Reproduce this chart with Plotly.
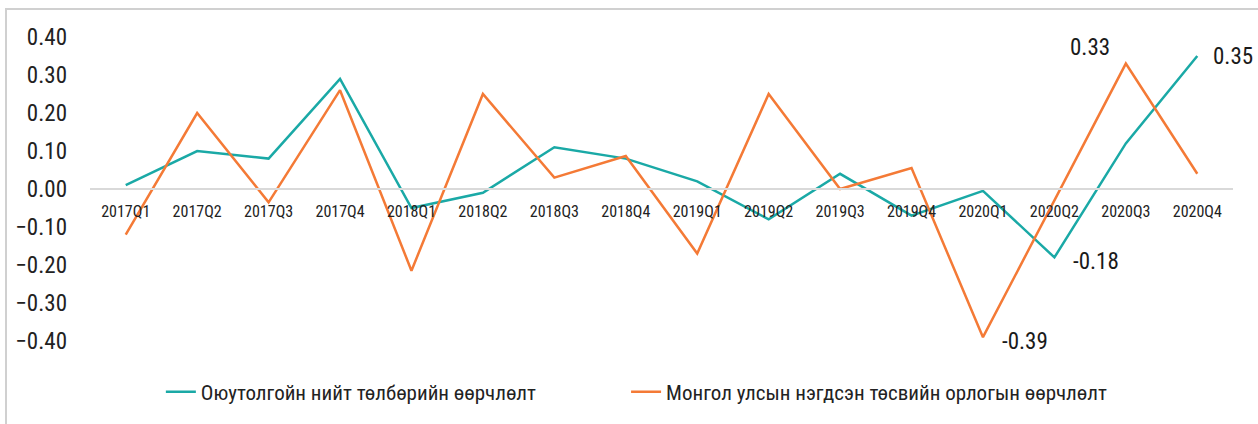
import plotly.graph_objects as go

categories = ["2017Q1", "2017Q2", "2017Q3", "2017Q4",
              "2018Q1", "2018Q2", "2018Q3", "2018Q4",
              "2019Q1", "2019Q2", "2019Q3", "2019Q4",
              "2020Q1", "2020Q2", "2020Q3", "2020Q4"]
oyu_tolgoi = [0.01, 0.10, 0.08, 0.29, -0.05, -0.01, 0.11, 0.08,
              0.02, -0.08, 0.04, -0.07, -0.005, -0.18, 0.12, 0.35]
budget_rev = [-0.12, 0.20, -0.035, 0.26, -0.215, 0.25, 0.03, 0.087,
              -0.17, 0.25, 0.00, 0.055, -0.39, -0.03, 0.33, 0.04]
name_oyu = "Оюутолгойн нийт төлбөрийн өөрчлөлт"
name_budget = "Монгол улсын нэгдсэн төсвийн орлогын өөрчлөлт"
y_ticks = [0.4, 0.3, 0.2, 0.1, 0.0, -0.1, -0.2, -0.3, -0.4]

TEAL = "#1AA9A6"
ORANGE = "#F47A36"
FONT = "Liberation Sans Narrow, Roboto Condensed, Arial Narrow, sans-serif"

fig = go.Figure()
fig.add_trace(go.Scatter(x=categories, y=oyu_tolgoi, mode="lines", name=name_oyu,
                         line=dict(color=TEAL, width=2.5), legend="legend"))
fig.add_trace(go.Scatter(x=categories, y=budget_rev, mode="lines", name=name_budget,
                         line=dict(color=ORANGE, width=2.5), legend="legend2"))

# value labels
labels = [
    (categories[14], budget_rev[14], -36, -16),
    (categories[15], oyu_tolgoi[15], 36, 0),
    (categories[13], oyu_tolgoi[13], 42, 4),
    (categories[12], budget_rev[12], 42, 4),
]
for x, y, ax, ay in labels:
    fig.add_annotation(x=x, y=y, text=f"{y:.2f}", showarrow=False,
                       xshift=ax, yshift=-ay,
                       font=dict(size=23, color="#1a1a1a", family=FONT))

legend_style = dict(orientation="h", xanchor="left", y=-0.168, yanchor="middle",
                    font=dict(size=21, color="#222222"), bgcolor="rgba(0,0,0,0)")

fig.update_layout(
    width=1258, height=424,
    margin=dict(l=90, r=25, t=37, b=83, autoexpand=False),
    paper_bgcolor="white", plot_bgcolor="white",
    font=dict(family=FONT, color="#222222"),
    showlegend=True,
    legend=dict(x=0.062, **legend_style),
    legend2=dict(x=0.469, **legend_style),
    xaxis=dict(type="category", range=[-0.5, 15.5], anchor="free", position=0.5,
               showline=True, linecolor="#d9d9d9", linewidth=2,
               showgrid=False, ticks="", tickfont=dict(size=16, color="#222222"),
               ticklabelstandoff=8, zeroline=False, tickangle=0),
    yaxis=dict(range=[-0.4, 0.4], tickvals=y_ticks, tickformat=".2f",
               showgrid=False, zeroline=False, showline=False, ticks="",
               tickfont=dict(size=23, color="#222222"), ticklabelstandoff=22,
               domain=[0, 1]),
    shapes=[dict(type="rect", xref="paper", yref="paper",
                 x0=-84/1143, x1=1.05, y0=-0.5, y1=1 + 28/304,
                 line=dict(color="#d0d0d0", width=2), layer="below")],
)

fig.write_html("out.html", config={"displayModeBar": False},
               post_script="document.body.style.margin='0';")
